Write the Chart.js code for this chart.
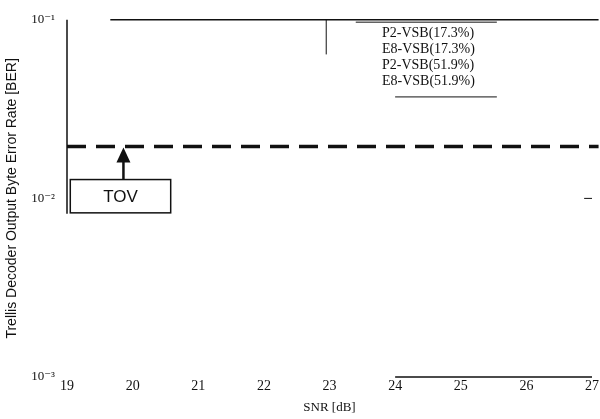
<!DOCTYPE html>
<html>
<head>
<meta charset="utf-8">
<script src="https://cdn.jsdelivr.net/npm/chart.js@4.4.1/dist/chart.umd.min.js"></script>
<style>
  html, body { margin: 0; padding: 0; background: #fff; }
  #wrap { width: 600px; height: 419px; position: relative; }
</style>
</head>
<body>
<div id="wrap"><canvas id="berChart"></canvas></div>
<script>
// --- chart data ---
const snrTicks = [19, 20, 21, 22, 23, 24, 25, 26, 27];
const berTicks = [1e-3, 1e-2, 1e-1];
const berTickLabels = ['10\u207B\u00B3', '10\u207B\u00B2', '10\u207B\u00B9'];
const seriesNames = ['P2-VSB(17.3%)', 'E8-VSB(17.3%)', 'P2-VSB(51.9%)', 'E8-VSB(51.9%)'];
// the curves themselves did not survive the scan, so the series are empty
const seriesValues = [[], [], [], []];
// TOV threshold line
const tovSnr = [19, 27.1];
const tovBer = [0.0195, 0.0195];
const tovLabel = 'TOV';

const serif = '"Liberation Serif", "DejaVu Serif", serif';
const sans = '"Liberation Sans", Arial, sans-serif';
const ink = '#111';

// draws the parts of the figure that are not data series: frame pieces, legend, TOV box + arrow
const figureExtras = {
  id: 'figureExtras',
  afterDatasetsDraw(chart) {
    const { ctx, scales: { x, y } } = chart;
    const X = v => x.getPixelForValue(v);
    const Y = v => y.getPixelForValue(v);
    ctx.save();
    ctx.strokeStyle = ink;
    ctx.fillStyle = ink;

    // frame remnants (the scan lost most of the box)
    ctx.lineWidth = 1.5;
    ctx.beginPath();
    ctx.moveTo(X(19.66), Y(0.1)); ctx.lineTo(X(27.1), Y(0.1));   // top
    ctx.moveTo(X(19), Y(0.1)); ctx.lineTo(X(19), Y(0.0082));     // left
    ctx.moveTo(X(24), Y(0.001)); ctx.lineTo(X(27), Y(0.001));    // bottom
    ctx.stroke();
    ctx.lineWidth = 1;
    ctx.beginPath();
    ctx.moveTo(X(22.95), Y(0.1)); ctx.lineTo(X(22.95), Y(0.064));
    ctx.moveTo(X(26.88), Y(0.01)); ctx.lineTo(X(27), Y(0.01));   // right tick
    ctx.stroke();

    // legend
    ctx.lineWidth = 1;
    ctx.beginPath();
    ctx.moveTo(X(23.4), Y(0.097)); ctx.lineTo(X(25.55), Y(0.097));
    ctx.moveTo(X(24.0), Y(0.037)); ctx.lineTo(X(25.55), Y(0.037));
    ctx.stroke();
    ctx.font = '14px ' + serif;
    ctx.textAlign = 'left';
    ctx.textBaseline = 'middle';
    const lx = X(23.8);
    const ly = [0.084, 0.068, 0.0555, 0.0455];
    seriesNames.forEach((name, i) => ctx.fillText(name, lx, Y(ly[i])));

    // TOV box
    const bx0 = X(19.05), bx1 = X(20.58);
    const by0 = Y(0.01275), by1 = Y(0.0083);
    ctx.fillStyle = '#fff';
    ctx.fillRect(bx0, by0, bx1 - bx0, by1 - by0);
    ctx.lineWidth = 1.5;
    ctx.strokeRect(bx0, by0, bx1 - bx0, by1 - by0);
    ctx.fillStyle = ink;
    ctx.font = '17px ' + sans;
    ctx.textAlign = 'center';
    ctx.fillText(tovLabel, (bx0 + bx1) / 2, (by0 + by1) / 2 + 1);

    // arrow from box to TOV line
    const ax = X(19.86);
    const tip = Y(tovBer[0]) + 1;
    ctx.lineWidth = 2.5;
    ctx.beginPath();
    ctx.moveTo(ax, by0); ctx.lineTo(ax, tip + 12);
    ctx.stroke();
    ctx.beginPath();
    ctx.moveTo(ax, tip);
    ctx.lineTo(ax - 7, tip + 15);
    ctx.lineTo(ax + 7, tip + 15);
    ctx.closePath();
    ctx.fill();

    ctx.restore();
  }
};

const datasets = seriesNames.map((name, i) => ({
  label: name,
  data: seriesValues[i],
  borderColor: ink,
  borderWidth: 1,
  pointRadius: 0
}));
datasets.push({
  label: tovLabel,
  data: tovSnr.map((s, i) => ({ x: s, y: tovBer[i] })),
  borderColor: ink,
  borderWidth: 3.5,
  borderDash: [19, 10],
  pointRadius: 0,
  clip: false
});

new Chart(document.getElementById('berChart'), {
  type: 'line',
  data: { datasets },
  options: {
    responsive: true,
    maintainAspectRatio: false,
    animation: false,
    layout: { padding: { top: 17, right: 7, left: 0, bottom: 0 } },
    plugins: { legend: { display: false }, tooltip: { enabled: false } },
    scales: {
      x: {
        type: 'linear',
        min: 19,
        max: 27,
        afterBuildTicks: s => { s.ticks = snrTicks.map(v => ({ value: v })); },
        afterFit: s => { s.height = 42; },
        grid: { display: false, drawTicks: false },
        border: { display: false },
        ticks: { color: ink, font: { family: serif, size: 14 }, padding: 1 },
        title: {
          display: true,
          text: 'SNR [dB]',
          color: ink,
          font: { family: serif, size: 13 },
          padding: { top: 0 }
        }
      },
      y: {
        type: 'logarithmic',
        min: 1e-3,
        max: 1e-1,
        afterBuildTicks: s => { s.ticks = berTicks.map(v => ({ value: v })); },
        afterFit: s => { s.width = 67; },
        grid: { display: false, drawTicks: false },
        border: { display: false },
        ticks: {
          color: ink,
          font: { family: serif, size: 13 },
          padding: 12,
          callback: v => berTickLabels[berTicks.indexOf(v)] ?? ''
        },
        title: {
          display: true,
          text: 'Trellis Decoder Output Byte Error Rate [BER]',
          color: ink,
          font: { family: sans, size: 14 },
          padding: { bottom: 0 }
        }
      }
    }
  },
  plugins: [figureExtras]
});
</script>
</body>
</html>
